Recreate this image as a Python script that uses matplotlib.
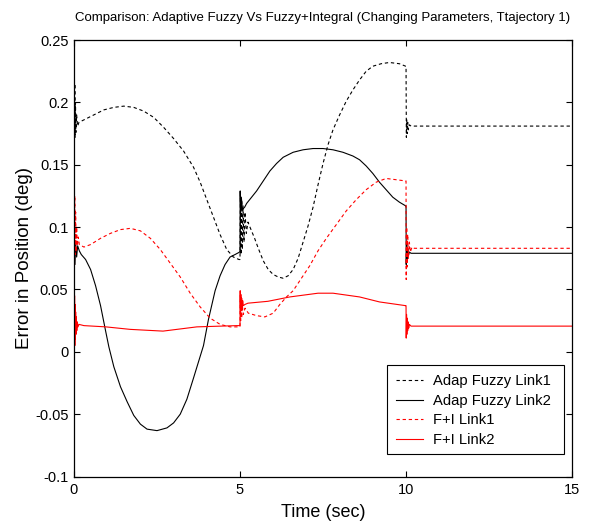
import matplotlib
matplotlib.use("Agg")
import matplotlib.pyplot as plt
from matplotlib.patches import Rectangle

plt.rcParams['font.family'] = ['Liberation Sans', 'DejaVu Sans']

# ---- data ----
af1_t = [0, 0.005, 0.015, 0.025, 0.035, 0.045, 0.06, 0.08, 0.11, 0.15, 0.3, 0.6, 0.9, 1.2, 1.5, 1.8,
         2.1, 2.4, 2.7, 3.0, 3.3, 3.6, 3.8, 4.0, 4.2, 4.4, 4.6, 4.8, 4.97,
         5.0, 5.01, 5.03, 5.05, 5.07, 5.09, 5.12, 5.15, 5.19, 5.24, 5.3, 5.44, 5.55, 5.7, 5.85, 6.0,
         6.15, 6.3, 6.45, 6.6, 6.75, 6.9, 7.05, 7.2, 7.35, 7.5, 7.65, 7.8, 8.0, 8.2, 8.4, 8.6, 8.8,
         9.0, 9.25, 9.5, 9.8, 9.99,
         10.0, 10.01, 10.02, 10.035, 10.05, 10.07, 10.1, 10.15, 15.0]
af1_v = [0.185, 0.228, 0.175, 0.215, 0.172, 0.2, 0.176, 0.19, 0.181, 0.184, 0.186, 0.19, 0.194, 0.196,
         0.197, 0.196, 0.193, 0.188, 0.18, 0.171, 0.161, 0.148, 0.136, 0.122, 0.108, 0.094, 0.082,
         0.076, 0.074,
         0.074, 0.128, 0.078, 0.122, 0.082, 0.117, 0.088, 0.112, 0.095, 0.104, 0.1, 0.091, 0.083,
         0.073, 0.066, 0.062, 0.06, 0.059, 0.061, 0.066, 0.075, 0.088, 0.101, 0.116, 0.134, 0.151,
         0.166, 0.178, 0.19, 0.201, 0.21, 0.218, 0.225, 0.229, 0.231, 0.232, 0.231, 0.229,
         0.229, 0.172, 0.186, 0.175, 0.184, 0.178, 0.182, 0.181, 0.181]

af2_t = [0, 0.01, 0.03, 0.05, 0.08, 0.11, 0.16, 0.22, 0.35, 0.5, 0.65, 0.8, 0.95, 1.05, 1.2, 1.4, 1.6,
         1.8, 2.0, 2.2, 2.5, 2.8, 3.0, 3.2, 3.4, 3.6, 3.75, 3.9, 4.05, 4.25, 4.4, 4.55, 4.7, 4.85,
         4.99,
         5.0, 5.005, 5.02, 5.04, 5.07, 5.14, 5.2, 5.5, 5.7, 5.9, 6.1, 6.3, 6.6, 6.9, 7.2, 7.5, 7.8,
         8.1, 8.4, 8.6, 8.8, 9.0, 9.2, 9.4, 9.6, 9.8, 9.99,
         10.0, 10.005, 10.02, 10.035, 10.05, 10.07, 10.1, 10.15, 15.0]
af2_v = [0.065, 0.09, 0.07, 0.088, 0.076, 0.085, 0.081, 0.078, 0.074, 0.066, 0.053, 0.037, 0.017,
         0.004, -0.012, -0.028, -0.04, -0.051, -0.058, -0.062, -0.0632, -0.061, -0.057, -0.05,
         -0.038, -0.021, -0.008, 0.005, 0.026, 0.049, 0.061, 0.07, 0.076, 0.078, 0.08,
         0.08, 0.129, 0.112, 0.124, 0.114, 0.116, 0.119, 0.129, 0.137, 0.145, 0.151, 0.156, 0.16,
         0.162, 0.163, 0.163, 0.162, 0.16, 0.157, 0.154, 0.149, 0.143, 0.136, 0.13, 0.124, 0.12,
         0.117,
         0.117, 0.07, 0.086, 0.074, 0.083, 0.077, 0.08, 0.079, 0.079]

fi1_t = [0, 0.005, 0.015, 0.025, 0.035, 0.05, 0.065, 0.08, 0.1, 0.13, 0.16, 0.3, 0.5, 0.8, 1.1, 1.4,
         1.7, 2.0, 2.3, 2.6, 2.9, 3.2, 3.5, 3.8, 4.1, 4.4, 4.7, 4.99,
         5.0, 5.005, 5.02, 5.035, 5.05, 5.07, 5.1, 5.15, 5.25, 5.5, 5.75, 6.0, 6.2, 6.4, 6.6, 6.85,
         7.1, 7.35, 7.6, 7.9, 8.2, 8.5, 8.8, 9.1, 9.4, 9.7, 9.99,
         10.0, 10.005, 10.02, 10.035, 10.05, 10.07, 10.1, 10.13, 10.18, 10.25, 15.0]
fi1_v = [0.06, 0.137, 0.07, 0.125, 0.078, 0.112, 0.08, 0.1, 0.085, 0.092, 0.086, 0.084, 0.086,
         0.091, 0.095, 0.098, 0.099, 0.097, 0.091, 0.082, 0.071, 0.06, 0.047, 0.036, 0.027, 0.022,
         0.02, 0.02,
         0.02, 0.045, 0.025, 0.04, 0.027, 0.037, 0.03, 0.035, 0.031, 0.029, 0.028, 0.031, 0.038,
         0.044, 0.049, 0.059, 0.069, 0.081, 0.091, 0.102, 0.113, 0.122, 0.13, 0.136, 0.139, 0.138,
         0.137,
         0.137, 0.058, 0.1, 0.068, 0.094, 0.075, 0.088, 0.08, 0.084, 0.083, 0.083]

fi2_t = [0, 0.004, 0.01, 0.018, 0.026, 0.034, 0.042, 0.05, 0.06, 0.07, 0.085, 0.1, 0.12, 0.15, 0.3,
         0.96, 1.69, 2.68, 3.7, 4.9, 4.99,
         5.0, 5.005, 5.015, 5.025, 5.035, 5.05, 5.065, 5.08, 5.1, 5.15, 5.24, 5.84, 6.5, 7.35, 7.8,
         8.6, 9.2, 9.99,
         10.0, 10.005, 10.015, 10.025, 10.035, 10.05, 10.065, 10.08, 10.1, 10.15, 15.0]
fi2_v = [0.0, 0.06, 0.0, 0.045, 0.005, 0.038, 0.01, 0.032, 0.014, 0.028, 0.017, 0.024, 0.02, 0.022,
         0.021, 0.02, 0.018, 0.0166, 0.02, 0.021, 0.021,
         0.021, 0.049, 0.03, 0.046, 0.033, 0.043, 0.035, 0.041, 0.037, 0.038, 0.039, 0.0405, 0.044,
         0.047, 0.047, 0.044, 0.04, 0.037,
         0.037, 0.011, 0.03, 0.014, 0.027, 0.017, 0.024, 0.019, 0.022, 0.0206, 0.0206]

labels = ['Adap Fuzzy Link1', 'Adap Fuzzy Link2', 'F+I Link1', 'F+I Link2']
x_ticks = [0, 5, 10, 15]
y_ticks = [-0.1, -0.05, 0, 0.05, 0.1, 0.15, 0.2, 0.25]
y_tick_labels = ['-0.1', '-0.05', '0', '0.05', '0.1', '0.15', '0.2', '0.25']

# ---- figure ----
fig = plt.figure(figsize=(6.03, 5.24), dpi=100)
ax = fig.add_axes([0.1227, 0.0906, 0.826, 0.833])

dash = (0, (3.0, 2.5))
lw = 0.8
ax.plot(af1_t, af1_v, color='black', lw=lw, linestyle=dash, label=labels[0])
ax.plot(af2_t, af2_v, color='black', lw=lw, linestyle='-', label=labels[1])
ax.plot(fi1_t, fi1_v, color='red', lw=lw, linestyle=dash, label=labels[2])
ax.plot(fi2_t, fi2_v, color='red', lw=lw, linestyle='-', label=labels[3])

ax.set_xlim(0, 15)
ax.set_ylim(-0.1, 0.25)
ax.set_xticks(x_ticks)
ax.set_xticklabels([str(v) for v in x_ticks])
ax.set_yticks(y_ticks)
ax.set_yticklabels(y_tick_labels)
ax.tick_params(direction='in', length=4, width=0.8, top=True, right=True,
               labelsize=10.5, colors='black')
ax.tick_params(axis='y', pad=4)
ax.tick_params(axis='x', pad=5)
for s in ax.spines.values():
    s.set_linewidth(0.9)

ax.set_title('Comparison: Adaptive Fuzzy Vs Fuzzy+Integral (Changing Parameters, Ttajectory 1)',
             fontsize=9.5, pad=14)
ax.set_xlabel('Time (sec)', fontsize=13, labelpad=5)
ax.set_ylabel('Error in Position (deg)', fontsize=13.5, labelpad=1.5)

# legend box (MATLAB-style, wider on the right)
box = Rectangle((0.6285, 0.0515), 0.984 - 0.6285, 0.2554 - 0.0515, transform=ax.transAxes,
                facecolor='white', edgecolor='black', linewidth=0.8, zorder=4)
ax.add_patch(box)
leg = ax.legend(loc='upper left', bbox_to_anchor=(0.6285, 0.2554), borderaxespad=0,
                fontsize=10.6, frameon=False, handlelength=1.77, handletextpad=0.68,
                labelspacing=0.37, borderpad=0.64)
leg.set_zorder(5)

fig.savefig('out.png', dpi=100)
